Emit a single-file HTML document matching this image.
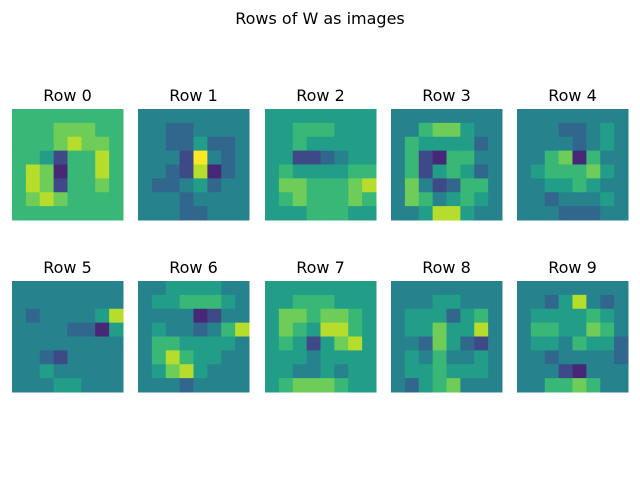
<!DOCTYPE html>
<html><head><meta charset="utf-8">
<style>
body{margin:0;background:#fff;width:640px;height:480px;overflow:hidden;font-family:"Liberation Sans","DejaVu Sans",sans-serif}
svg text{font-family:"DejaVu Sans","Liberation Sans",sans-serif;fill:#000}
</style></head>
<body>
<svg id="chart" width="640" height="480" viewBox="0 0 640 480" xmlns="http://www.w3.org/2000/svg">
<rect width="640" height="480" fill="#fff"/>
<text x="320" y="24" font-size="16" text-anchor="middle">Rows of W as images</text>
</svg>
<script>
const rowLabels=["Row 0","Row 1","Row 2","Row 3","Row 4","Row 5","Row 6","Row 7","Row 8","Row 9"];
const w0=[[6,6,6,6,6,6,6,6],[6,6,6,7,7,7,6,6],[6,6,6,7,8,7,7,6],[6,6,5,2,6,6,8,6],[6,8,7,1,6,6,8,6],[6,8,7,2,6,6,7,6],[6,7,8,7,6,6,6,6],[6,6,6,6,6,6,6,6]];
const w1=[[4,4,4,4,4,4,4,4],[4,4,3,3,4,4,4,4],[4,4,3,3,5,3,3,4],[4,4,4,2,9,4,3,4],[4,4,3,2,8,1,3,4],[4,3,3,4,5,3,4,4],[4,4,4,3,4,4,4,4],[4,4,4,3,3,4,4,4]];
const w2=[[5,5,5,5,5,5,5,5],[5,5,6,6,6,5,5,5],[5,5,6,5,5,5,5,5],[5,5,2,2,3,4,5,5],[5,6,5,5,5,5,6,6],[5,7,7,6,6,6,7,8],[5,6,7,6,6,6,7,6],[5,5,5,6,6,6,5,5]];
const w3=[[4,4,4,4,4,4,4,4],[4,4,6,7,7,5,4,4],[4,6,5,5,5,5,3,4],[4,6,2,1,6,6,4,4],[4,6,2,5,6,5,3,4],[4,7,4,2,3,6,6,4],[4,7,6,4,5,6,5,4],[4,4,5,8,8,5,4,4]];
const w4=[[4,4,4,4,4,4,4,4],[4,4,4,3,3,4,5,4],[4,4,4,4,3,4,5,4],[4,4,6,7,1,6,4,4],[4,5,6,6,6,7,5,4],[4,4,5,5,6,5,4,4],[4,4,3,4,4,4,5,4],[4,4,4,3,3,3,4,4]];
const w5=[[4,4,4,4,4,4,4,4],[4,4,4,4,4,4,4,4],[4,3,4,4,4,4,5,8],[4,4,4,4,3,3,1,5],[4,4,4,4,4,4,4,4],[4,4,3,2,4,4,4,4],[4,4,5,4,4,4,4,4],[4,4,4,5,5,4,4,4]];
const w6=[[4,4,5,5,5,5,4,4],[4,5,5,6,6,6,5,4],[4,4,4,4,1,2,4,4],[4,5,4,4,3,4,6,8],[4,6,6,5,5,5,5,4],[4,6,8,6,5,5,4,4],[4,5,7,8,5,4,4,4],[4,4,4,3,4,4,4,4]];
const w7=[[5,5,5,5,5,5,5,5],[5,5,6,6,6,5,5,5],[5,7,7,6,7,7,6,5],[5,7,6,5,8,8,6,5],[5,6,5,2,5,7,8,5],[5,5,5,4,5,5,5,5],[5,5,4,4,5,4,5,5],[5,6,7,7,7,6,5,5]];
const w8=[[4,4,4,4,4,4,4,4],[4,4,4,5,5,4,4,4],[4,5,5,5,3,5,6,4],[4,5,5,7,5,5,8,4],[4,4,3,7,5,3,2,4],[4,5,4,6,4,4,5,4],[4,5,5,6,5,5,5,4],[4,3,5,6,7,4,4,4]];
const w9=[[4,4,4,4,4,4,4,4],[4,4,3,5,8,4,3,4],[4,5,5,5,5,6,5,4],[4,6,6,5,5,7,6,4],[4,5,5,4,6,5,5,3],[4,4,3,4,4,4,4,3],[4,4,4,2,1,4,4,4],[4,4,6,6,7,6,4,4]];
const weights=[w0,w1,w2,w3,w4,w5,w6,w7,w8,w9];

const vir=[[68,1,84],[72,36,117],[65,68,135],[53,95,141],[42,120,142],[33,145,140],[34,168,132],[68,191,112],[122,209,81],[189,223,38],[253,231,37]];
function cmap(v){const t=Math.max(0,Math.min(1,v/9))*(vir.length-1);const i=Math.min(vir.length-2,Math.floor(t));const f=t-i;
const c=vir[i].map((a,k)=>Math.round(a+(vir[i+1][k]-a)*f));return `rgb(${c[0]},${c[1]},${c[2]})`;}
const svg=document.getElementById('chart');const NS='http://www.w3.org/2000/svg';
const colX=[12,138,265,391,517],rowY=[109,281],S=111;
weights.forEach((grid,idx)=>{
  const x0=colX[idx%5],y0=rowY[Math.floor(idx/5)];
  const g=document.createElementNS(NS,'g');
  
  
  const n=grid.length,cs=S/n;
  grid.forEach((row,r)=>row.forEach((v,c)=>{
    const rc=document.createElementNS(NS,'rect');
    
    
    rc.setAttribute('x',x0+c*cs);rc.setAttribute('y',y0+r*cs);
    rc.setAttribute('width',cs+0.5);rc.setAttribute('height',cs+0.5);
    rc.setAttribute('fill',cmap(v));g.appendChild(rc);
  }));
  const t=document.createElementNS(NS,'text');
  
  
  t.setAttribute('x',x0+S/2);t.setAttribute('y',y0-8);
  t.setAttribute('font-size','16');t.setAttribute('text-anchor','middle');
  t.textContent=rowLabels[idx];g.appendChild(t);
  svg.appendChild(g);
});
</script>
</body></html>
